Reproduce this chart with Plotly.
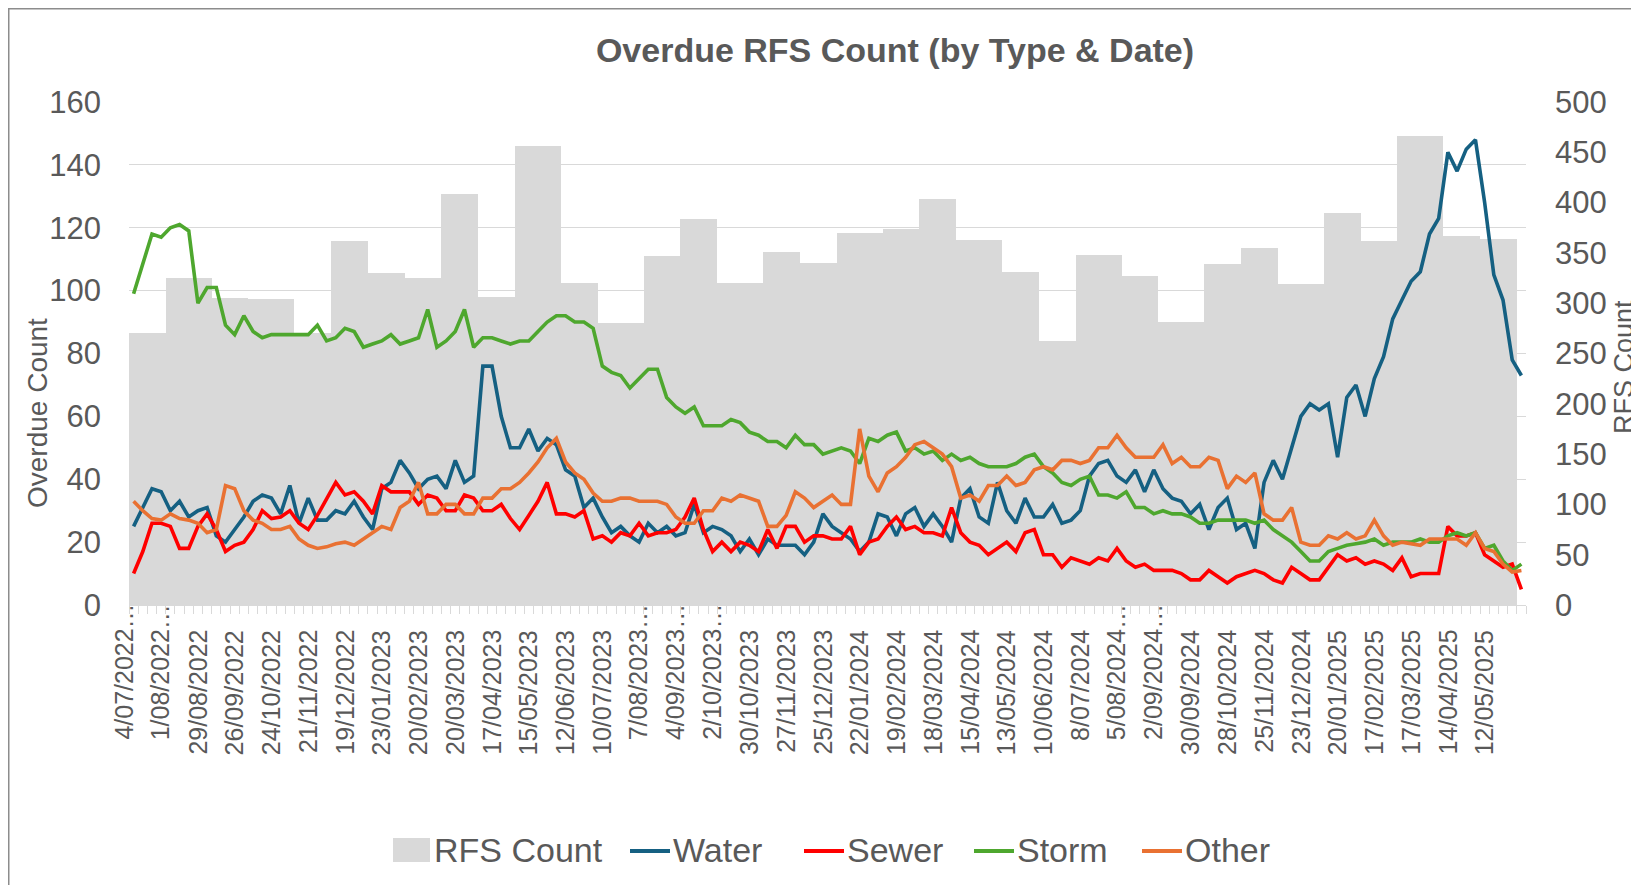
import pandas as pd
import plotly.graph_objects as go

# weekly categories (Mondays); the week of 2/01/2023 is missing from the data
weeks = pd.date_range("2022-07-04", "2025-06-02", freq="7D")
weeks = weeks[weeks != pd.Timestamp("2023-01-02")]
week_idx = list(range(len(weeks)))

# labels shown on the category axis (every 4th week)
tick_labels = [
    "4/07/2022…", "1/08/2022…", "29/08/2022", "26/09/2022", "24/10/2022", "21/11/2022",
    "19/12/2022", "23/01/2023", "20/02/2023", "20/03/2023", "17/04/2023", "15/05/2023",
    "12/06/2023", "10/07/2023", "7/08/2023…", "4/09/2023…", "2/10/2023…", "30/10/2023",
    "27/11/2023", "25/12/2023", "22/01/2024", "19/02/2024", "18/03/2024", "15/04/2024",
    "13/05/2024", "10/06/2024", "8/07/2024", "5/08/2024…", "2/09/2024…", "30/09/2024",
    "28/10/2024", "25/11/2024", "23/12/2024", "20/01/2025", "17/02/2025", "17/03/2025",
    "14/04/2025", "12/05/2025",
]

# monthly RFS count (grey columns, right axis)
rfs_months = [
    "2022-07", "2022-08", "2022-09", "2022-10", "2022-11", "2022-12",
    "2023-01", "2023-02", "2023-03", "2023-04", "2023-05", "2023-06",
    "2023-07", "2023-08", "2023-09", "2023-10", "2023-11", "2023-12",
    "2024-01", "2024-02", "2024-03", "2024-04", "2024-05", "2024-06",
    "2024-07", "2024-08", "2024-09", "2024-10", "2024-11", "2024-12",
    "2025-01", "2025-02", "2025-03", "2025-04", "2025-05",
]
rfs_values = [
    270, 325, 305, 304, 270, 362,
    330, 325, 409, 306, 456, 320,
    280, 347, 384, 320, 351, 340,
    370, 374, 404, 363, 331, 262,
    348, 327, 281, 339, 355, 319,
    390, 362, 466, 367, 364,
]

# weekly overdue counts (left axis)
water = [
    25, 31, 37, 36, 30, 33, 28, 30, 31, 22, 20, 24, 28, 33, 35, 34, 29, 38, 26, 34,
    27, 27, 30, 29, 33, 28, 24, 37, 39, 46, 42, 37, 40, 41, 37, 46, 39, 41, 76, 76,
    60, 50, 50, 56, 49, 53, 51, 43, 41, 31, 34, 28, 23, 25, 22, 20, 26, 23, 25, 22,
    23, 32, 23, 25, 24, 22, 17, 21, 16, 21, 19, 19, 19, 16, 20, 29, 25, 23, 21, 17,
    20, 29, 28, 22, 29, 31, 25, 29, 25, 20, 34, 37, 28, 26, 39, 30, 26, 34, 28, 28,
    32, 26, 27, 30, 41, 45, 46, 41, 39, 43, 36, 43, 37, 34, 33, 29, 32, 24, 31, 34,
    24, 26, 18, 39, 46, 40, 50, 60, 64, 62, 64, 47, 66, 70, 60, 72, 79, 91, 97, 103,
    106, 118, 123, 144, 138, 145, 148, 128, 105, 97, 78, 73,
]
sewer = [
    10, 17, 26, 26, 25, 18, 18, 25, 29, 24, 17, 19, 20, 24, 30, 27.5, 28, 30, 26, 24,
    28.5, 34, 39, 35, 36, 33, 29, 38, 36, 36, 36, 32, 35, 34, 30, 30, 35, 34, 30, 30,
    32, 27.5, 24, 28.5, 33, 39, 29, 29, 28, 30, 21, 22, 20, 23, 22, 26, 22, 23, 23, 24,
    28, 34, 24, 17, 20, 17, 20, 19, 17, 24, 18, 25, 25, 20, 22, 22, 21, 21, 25, 16,
    20, 21, 25, 28, 24, 25, 23, 23, 22, 31, 23, 20, 19, 16, 18, 20, 17, 23, 24, 16,
    16, 12, 15, 14, 13, 15, 14, 18, 14, 12, 13, 11, 11, 11, 10, 8, 8, 11, 9, 7,
    9, 10, 11, 10, 8, 7, 12, 10, 8, 8, 12, 16, 14, 15, 13, 14, 13, 11, 15, 9,
    10, 10, 10, 25, 22, 22, 23, 16, 14, 12, 13, 5,
]
storm = [
    99, 108.5, 118, 117, 120, 121, 119, 96, 101, 101, 89, 86, 92, 87, 85, 86, 86, 86, 86, 86,
    89, 84, 85, 88, 87, 82, 83, 84, 86, 83, 84, 85, 94, 82, 84, 87, 94, 82, 85, 85,
    84, 83, 84, 84, 87, 90, 92, 92, 90, 90, 88, 76, 74, 73, 69, 72, 75, 75, 66, 63,
    61, 63, 57, 57, 57, 59, 58, 55, 54, 52, 52, 50, 54, 51, 51, 48, 49, 50, 49, 45,
    53, 52, 54, 55, 49, 50, 48, 49, 46, 48, 46, 47, 45, 44, 44, 44, 45, 47, 48, 44,
    42, 39, 38, 40, 41, 35, 35, 34, 36, 31, 31, 29, 30, 29, 29, 28, 26, 26, 27, 27,
    27, 27, 26, 27, 24, 22, 20, 17, 14, 14, 17, 18, 19, 19.5, 20, 21, 19, 20, 20, 20,
    21, 20, 20, 22, 23, 22, 23, 18, 19, 14, 11, 13,
]
other = [
    33, 30, 27.5, 27, 29, 27.5, 27, 26, 23, 24, 38, 37, 30, 27, 26, 24, 24, 25, 21, 19,
    18, 18.5, 19.5, 20, 19, 21, 23, 25, 24, 31, 33, 39, 29, 29, 32, 32, 29, 29, 34, 34,
    37, 37, 39, 42, 45.5, 50, 53, 45.5, 42, 40, 35.6, 33, 33, 34, 34, 33, 33, 33, 32, 28,
    26, 26, 30, 30, 34, 33, 35, 34, 33, 25, 25, 28.5, 36, 34, 31, 33, 35, 32, 32, 56,
    41, 36, 42, 44, 47, 51, 52, 50, 48, 44, 34, 35, 33, 38, 38, 41, 38, 39, 43, 44,
    43, 46, 46, 45, 46, 50, 50, 54, 50, 47, 47, 47, 51, 45, 47, 44, 44, 47, 46, 37,
    41, 39, 42, 29, 27, 27, 31, 20, 19, 19, 22, 21, 23, 21, 22, 27, 22, 19, 20, 19.5,
    19, 21, 21, 21, 21, 19, 23, 18, 17, 13, 10.5, 11,
]

# each week takes the count of its month (no value for the June 2025 week)
rfs_by_month = dict(zip(rfs_months, rfs_values))
rfs_weekly = [rfs_by_month.get(w.strftime("%Y-%m")) for w in weeks]

series = [("Water", water, "#156082"), ("Sewer", sewer, "#FF0000"),
          ("Storm", storm, "#4EA72E"), ("Other", other, "#E97132")]

# page is drawn with an 8px body margin, so layout numbers below are page pixels
OFF = 8
W, H = 1639 - OFF, 885 - OFF
L, R, T, B = 121, 113, 94, 280
TXT = "#595959"
GREY = "#D9D9D9"
FONT = "Liberation Sans, Arial, sans-serif"


def px_x(p):
    return (p - OFF - L) / (W - L - R)


def px_y(p):
    return (H - B - (p - OFF)) / (H - T - B)


fig = go.Figure()
fig.add_trace(go.Bar(x=week_idx, y=rfs_weekly, width=1, name="RFS Count", showlegend=False,
                     marker=dict(color=GREY, line=dict(width=0)), yaxis="y"))
for name, vals, col in series:
    fig.add_trace(go.Scatter(x=week_idx, y=vals, mode="lines", name=name, showlegend=False,
                             line=dict(color=col, width=3.6), yaxis="y2"))

annotations = [
    dict(text="Overdue Count", x=px_x(37), y=px_y(413), xref="paper", yref="paper",
         textangle=-90, showarrow=False, font=dict(size=28, color=TXT),
         xanchor="center", yanchor="middle"),
    dict(text="RFS Count", x=px_x(1624), y=px_y(367), xref="paper", yref="paper",
         textangle=-90, showarrow=False, font=dict(size=27, color=TXT),
         xanchor="center", yanchor="middle"),
]
# category labels, rotated like the Excel axis (slightly left of each week)
for k, lab in zip(week_idx[::4], tick_labels):
    top = 602 if lab.endswith("…") else 628
    annotations.append(dict(text=lab, x=k, xref="x", y=px_y(top), yref="paper",
                            textangle=-90, showarrow=False, xshift=-10,
                            xanchor="center", yanchor="top",
                            font=dict(size=25, color=TXT)))

# legend drawn like the Excel one: big swatches then text
shapes = [
    dict(type="rect", xref="paper", yref="paper", x0=px_x(393), x1=px_x(430),
         y0=px_y(862), y1=px_y(838), fillcolor=GREY, line=dict(width=0)),
]
annotations.append(dict(text="RFS Count", x=px_x(432), y=px_y(850), xref="paper", yref="paper",
                        xanchor="left", yanchor="middle", showarrow=False,
                        font=dict(size=34, color=TXT)))
for (name, _, col), sx in zip(series, [630, 804, 974, 1142]):
    shapes.append(dict(type="line", xref="paper", yref="paper", x0=px_x(sx), x1=px_x(sx + 40),
                       y0=px_y(851), y1=px_y(851), line=dict(color=col, width=4)))
    annotations.append(dict(text=name, x=px_x(sx + 41), y=px_y(850), xref="paper",
                            yref="paper", xanchor="left", yanchor="middle", showarrow=False,
                            font=dict(size=34, color=TXT)))

# chart area border
shapes.append(dict(type="rect", xref="paper", yref="paper", x0=px_x(OFF + 0.75),
                   y0=px_y(905), x1=px_x(1700), y1=px_y(OFF + 0.75),
                   line=dict(color="#8C8C8C", width=1.5), fillcolor="rgba(0,0,0,0)",
                   layer="above"))

fig.update_layout(
    width=W, height=H, autosize=False,
    margin=dict(l=L, r=R, t=T, b=B, pad=0),
    paper_bgcolor="white", plot_bgcolor="white",
    font=dict(family=FONT, color=TXT),
    bargap=0, showlegend=False,
    title=dict(text="Overdue RFS Count (by Type & Date)", x=(895 - OFF) / W,
               y=1 - (50 - OFF) / H, xanchor="center", yanchor="middle",
               xref="container", yref="container",
               font=dict(size=34, color=TXT, weight="bold")),
    xaxis=dict(
        range=[-0.5, len(weeks) - 0.5], showticklabels=False, ticks="",
        minor=dict(ticks="outside", ticklen=8, tickcolor=GREY, tickwidth=1,
                   tick0=-0.5, dtick=1, showgrid=False),
        showgrid=False, zeroline=False, showline=True, linecolor=GREY, linewidth=1,
    ),
    yaxis=dict(
        side="right", range=[0, 500], tick0=0, dtick=50, showgrid=False, zeroline=False,
        ticks="", ticklabelstandoff=28, tickfont=dict(size=31, color=TXT),
    ),
    yaxis2=dict(
        overlaying="y", side="left", range=[0, 160], tick0=0, dtick=20,
        showgrid=True, gridcolor=GREY, gridwidth=1, zeroline=False,
        ticks="", ticklabelstandoff=27, tickfont=dict(size=31, color=TXT),
    ),
    annotations=annotations,
    shapes=shapes,
)

fig.write_html("out.html")
